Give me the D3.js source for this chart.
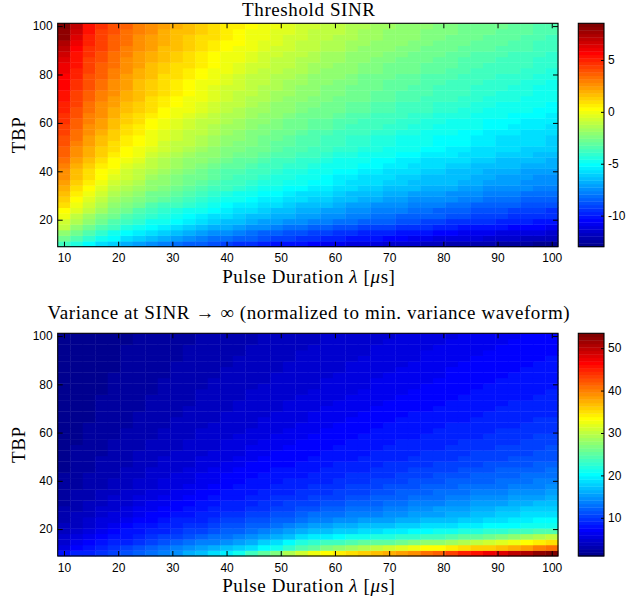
<!DOCTYPE html>
<html>
<head>
<meta charset="utf-8">
<script src="https://cdn.jsdelivr.net/npm/d3@7"></script>
<style>
  body { margin: 0; background: #fff; }
  .tick text { font-family: "Liberation Sans", Arial, sans-serif; font-size: 12px; fill: #000; }
  .tick line { stroke: #000; }
  .lbl { font-family: "Liberation Serif", "Times New Roman", serif; font-size: 19px; letter-spacing: 0.6px; fill: #000; }
</style>
</head>
<body>
<div class="svg-wrapper"></div>
<script>
// grid: pulse duration (us) and time-bandwidth product
const pulseDur = [10, 12.31, 14.62, 16.92, 19.23, 21.54, 23.85, 26.15, 28.46, 30.77, 33.08, 35.38, 37.69, 40, 42.31, 44.62, 46.92, 49.23, 51.54, 53.85, 56.15, 58.46, 60.77, 63.08, 65.38, 67.69, 70, 72.31, 74.62, 76.92, 79.23, 81.54, 83.85, 86.15, 88.46, 90.77, 93.08, 95.38, 97.69, 100];
const tbp = [10, 12.31, 14.62, 16.92, 19.23, 21.54, 23.85, 26.15, 28.46, 30.77, 33.08, 35.38, 37.69, 40, 42.31, 44.62, 46.92, 49.23, 51.54, 53.85, 56.15, 58.46, 60.77, 63.08, 65.38, 67.69, 70, 72.31, 74.62, 76.92, 79.23, 81.54, 83.85, 86.15, 88.46, 90.77, 93.08, 95.38, 97.69, 100];

const xTicks = [10, 20, 30, 40, 50, 60, 70, 80, 90, 100];
const yTicks = [20, 40, 60, 80, 100];
const sinrBarTicks = [-10, -5, 0, 5];
const varBarTicks = [10, 20, 30, 40, 50];

// threshold SINR, one row per TBP value (row 0 = TBP 10)
const sinrRows = [
[-3.6,-4.4,-5.1,-5.7,-6.2,-6.7,-7.1,-7.4,-7.8,-8.1,-8.4,-8.6,-8.9,-9.1,-9.4,-9.6,-9.8,-10.0,-10.2,-10.3,-10.5,-10.7,-10.8,-11.0,-11.1,-11.2,-11.4,-11.5,-11.6,-11.8,-11.9,-12.0,-12.1,-12.2,-12.3,-12.4,-12.5,-12.6,-12.7,-13.0],
[-2.6,-3.4,-4.1,-4.7,-5.2,-5.7,-6.1,-6.5,-6.8,-7.1,-7.4,-7.7,-8.0,-8.2,-8.4,-8.6,-8.8,-9.0,-9.2,-9.4,-9.6,-9.7,-9.9,-10.0,-10.2,-10.3,-10.5,-10.6,-10.7,-10.8,-11.0,-11.1,-11.2,-11.3,-11.4,-11.5,-11.6,-11.7,-11.8,-11.9],
[-1.9,-2.8,-3.5,-4.1,-4.6,-5.1,-5.5,-5.9,-6.2,-6.5,-6.8,-7.1,-7.4,-7.6,-7.9,-8.1,-8.3,-8.5,-8.7,-8.8,-9.0,-9.2,-9.4,-9.5,-9.7,-9.8,-9.9,-10.1,-10.2,-10.3,-10.4,-10.6,-10.7,-10.8,-10.9,-11.0,-11.1,-11.2,-11.3,-11.4],
[-1.2,-2.1,-2.8,-3.4,-3.9,-4.4,-4.8,-5.2,-5.5,-5.8,-6.1,-6.4,-6.7,-6.9,-7.2,-7.4,-7.6,-7.8,-8.0,-8.1,-8.3,-8.5,-8.7,-8.8,-9.0,-9.1,-9.2,-9.4,-9.5,-9.6,-9.7,-9.9,-10.0,-10.1,-10.2,-10.3,-10.4,-10.5,-10.6,-10.7],
[-0.6,-1.5,-2.2,-2.8,-3.3,-3.8,-4.2,-4.6,-4.9,-5.2,-5.5,-5.8,-6.1,-6.3,-6.6,-6.8,-7.0,-7.2,-7.4,-7.5,-7.7,-7.9,-8.1,-8.2,-8.4,-8.5,-8.6,-8.8,-8.9,-9.0,-9.1,-9.3,-9.4,-9.5,-9.6,-9.7,-9.8,-9.9,-10.0,-10.1],
[-0.1,-1.0,-1.7,-2.3,-2.8,-3.3,-3.7,-4.1,-4.4,-4.7,-5.0,-5.3,-5.6,-5.8,-6.1,-6.3,-6.5,-6.7,-6.9,-7.0,-7.2,-7.4,-7.6,-7.7,-7.9,-8.0,-8.1,-8.3,-8.4,-8.5,-8.6,-8.8,-8.9,-9.0,-9.1,-9.2,-9.3,-9.4,-9.5,-9.6],
[0.4,-0.5,-1.2,-1.8,-2.4,-2.8,-3.3,-3.7,-4.0,-4.3,-4.6,-4.9,-5.2,-5.4,-5.7,-5.9,-6.1,-6.3,-6.5,-6.7,-6.9,-7.0,-7.2,-7.4,-7.5,-7.7,-7.8,-7.9,-8.1,-8.2,-8.3,-8.4,-8.6,-8.7,-8.8,-8.9,-9.0,-9.1,-9.2,-9.3],
[0.8,-0.1,-0.8,-1.4,-2.0,-2.4,-2.9,-3.3,-3.6,-3.9,-4.2,-4.5,-4.8,-5.0,-5.3,-5.5,-5.7,-5.9,-6.1,-6.3,-6.5,-6.6,-6.8,-7.0,-7.1,-7.3,-7.4,-7.5,-7.7,-7.8,-7.9,-8.0,-8.2,-8.3,-8.4,-8.5,-8.6,-8.7,-8.8,-8.9],
[1.2,0.3,-0.4,-1.0,-1.6,-2.0,-2.5,-2.9,-3.2,-3.5,-3.8,-4.1,-4.4,-4.6,-4.9,-5.1,-5.3,-5.5,-5.7,-5.9,-6.1,-6.2,-6.4,-6.6,-6.7,-6.9,-7.0,-7.1,-7.3,-7.4,-7.5,-7.6,-7.8,-7.9,-8.0,-8.1,-8.2,-8.3,-8.4,-8.5],
[1.5,0.6,-0.1,-0.7,-1.3,-1.7,-2.2,-2.6,-2.9,-3.2,-3.5,-3.8,-4.1,-4.3,-4.6,-4.8,-5.0,-5.2,-5.4,-5.6,-5.8,-5.9,-6.1,-6.3,-6.4,-6.6,-6.7,-6.8,-7.0,-7.1,-7.2,-7.3,-7.5,-7.6,-7.7,-7.8,-7.9,-8.0,-8.1,-8.2],
[1.9,1.0,0.3,-0.3,-0.9,-1.3,-1.8,-2.2,-2.5,-2.8,-3.1,-3.4,-3.7,-3.9,-4.2,-4.4,-4.6,-4.8,-5.0,-5.2,-5.4,-5.5,-5.7,-5.9,-6.0,-6.2,-6.3,-6.4,-6.6,-6.7,-6.8,-6.9,-7.1,-7.2,-7.3,-7.4,-7.5,-7.6,-7.7,-7.8],
[2.2,1.3,0.6,0.0,-0.6,-1.0,-1.5,-1.9,-2.2,-2.5,-2.8,-3.1,-3.4,-3.6,-3.9,-4.1,-4.3,-4.5,-4.7,-4.9,-5.1,-5.2,-5.4,-5.6,-5.7,-5.9,-6.0,-6.1,-6.3,-6.4,-6.5,-6.6,-6.8,-6.9,-7.0,-7.1,-7.2,-7.3,-7.4,-7.5],
[2.5,1.6,0.9,0.2,-0.3,-0.8,-1.2,-1.6,-2.0,-2.3,-2.6,-2.9,-3.2,-3.5,-3.7,-3.9,-4.1,-4.4,-4.5,-4.7,-4.9,-5.1,-5.3,-5.4,-5.6,-5.7,-5.9,-6.0,-6.1,-6.3,-6.4,-6.5,-6.6,-6.8,-6.9,-7.0,-7.1,-7.2,-7.3,-7.4],
[2.7,1.8,1.1,0.4,-0.1,-0.6,-1.0,-1.4,-1.8,-2.1,-2.4,-2.7,-3.0,-3.3,-3.5,-3.7,-3.9,-4.2,-4.3,-4.5,-4.7,-4.9,-5.1,-5.2,-5.4,-5.5,-5.7,-5.8,-5.9,-6.1,-6.2,-6.3,-6.4,-6.6,-6.7,-6.8,-6.9,-7.0,-7.1,-7.2],
[3.0,2.1,1.4,0.7,0.2,-0.3,-0.7,-1.1,-1.5,-1.8,-2.1,-2.4,-2.7,-3.0,-3.2,-3.4,-3.6,-3.9,-4.0,-4.2,-4.4,-4.6,-4.8,-4.9,-5.1,-5.2,-5.4,-5.5,-5.6,-5.8,-5.9,-6.0,-6.1,-6.3,-6.4,-6.5,-6.6,-6.7,-6.8,-6.9],
[3.2,2.3,1.6,0.9,0.4,-0.1,-0.5,-0.9,-1.3,-1.6,-1.9,-2.2,-2.5,-2.8,-3.0,-3.2,-3.4,-3.7,-3.8,-4.0,-4.2,-4.4,-4.6,-4.7,-4.9,-5.0,-5.2,-5.3,-5.4,-5.6,-5.7,-5.8,-5.9,-6.1,-6.2,-6.3,-6.4,-6.5,-6.6,-6.7],
[3.5,2.6,1.9,1.2,0.7,0.2,-0.2,-0.6,-1.0,-1.3,-1.6,-1.9,-2.2,-2.5,-2.7,-2.9,-3.1,-3.4,-3.5,-3.7,-3.9,-4.1,-4.3,-4.4,-4.6,-4.7,-4.9,-5.0,-5.1,-5.3,-5.4,-5.5,-5.6,-5.8,-5.9,-6.0,-6.1,-6.2,-6.3,-6.4],
[3.7,2.8,2.1,1.4,0.9,0.4,0.0,-0.4,-0.8,-1.1,-1.4,-1.7,-2.0,-2.3,-2.5,-2.7,-2.9,-3.2,-3.3,-3.5,-3.7,-3.9,-4.1,-4.2,-4.4,-4.5,-4.7,-4.8,-4.9,-5.1,-5.2,-5.3,-5.4,-5.6,-5.7,-5.8,-5.9,-6.0,-6.1,-6.2],
[3.9,3.0,2.3,1.6,1.1,0.6,0.2,-0.2,-0.6,-0.9,-1.2,-1.5,-1.8,-2.1,-2.3,-2.5,-2.7,-3.0,-3.1,-3.3,-3.5,-3.7,-3.9,-4.0,-4.2,-4.3,-4.5,-4.6,-4.7,-4.9,-5.0,-5.1,-5.2,-5.4,-5.5,-5.6,-5.7,-5.8,-5.9,-6.0],
[4.1,3.2,2.4,1.8,1.2,0.7,0.3,-0.1,-0.5,-0.8,-1.1,-1.4,-1.7,-2.0,-2.2,-2.5,-2.7,-2.9,-3.1,-3.3,-3.5,-3.6,-3.8,-4.0,-4.1,-4.3,-4.4,-4.6,-4.7,-4.8,-5.0,-5.1,-5.2,-5.3,-5.5,-5.6,-5.7,-5.8,-5.9,-6.0],
[4.3,3.4,2.6,2.0,1.4,0.9,0.5,0.1,-0.3,-0.6,-0.9,-1.2,-1.5,-1.8,-2.0,-2.3,-2.5,-2.7,-2.9,-3.1,-3.3,-3.4,-3.6,-3.8,-3.9,-4.1,-4.2,-4.4,-4.5,-4.6,-4.8,-4.9,-5.0,-5.1,-5.3,-5.4,-5.5,-5.6,-5.7,-5.8],
[4.5,3.6,2.8,2.2,1.6,1.1,0.7,0.3,-0.1,-0.4,-0.7,-1.0,-1.3,-1.6,-1.8,-2.1,-2.3,-2.5,-2.7,-2.9,-3.1,-3.2,-3.4,-3.6,-3.7,-3.9,-4.0,-4.2,-4.3,-4.4,-4.6,-4.7,-4.8,-4.9,-5.1,-5.2,-5.3,-5.4,-5.5,-5.6],
[4.6,3.7,2.9,2.3,1.7,1.2,0.8,0.4,0.0,-0.3,-0.6,-0.9,-1.2,-1.5,-1.7,-2.0,-2.2,-2.4,-2.6,-2.8,-3.0,-3.1,-3.3,-3.5,-3.6,-3.8,-3.9,-4.1,-4.2,-4.3,-4.5,-4.6,-4.7,-4.8,-5.0,-5.1,-5.2,-5.3,-5.4,-5.5],
[4.8,3.9,3.1,2.5,1.9,1.4,1.0,0.6,0.2,-0.1,-0.4,-0.7,-1.0,-1.3,-1.5,-1.8,-2.0,-2.2,-2.4,-2.6,-2.8,-2.9,-3.1,-3.3,-3.4,-3.6,-3.7,-3.9,-4.0,-4.1,-4.3,-4.4,-4.5,-4.6,-4.8,-4.9,-5.0,-5.1,-5.2,-5.3],
[5.0,4.1,3.3,2.7,2.1,1.6,1.2,0.8,0.4,0.1,-0.2,-0.5,-0.8,-1.1,-1.3,-1.6,-1.8,-2.0,-2.2,-2.4,-2.6,-2.7,-2.9,-3.1,-3.2,-3.4,-3.5,-3.7,-3.8,-3.9,-4.1,-4.2,-4.3,-4.4,-4.6,-4.7,-4.8,-4.9,-5.0,-5.1],
[5.1,4.2,3.4,2.8,2.2,1.7,1.3,0.9,0.5,0.2,-0.1,-0.4,-0.7,-1.0,-1.2,-1.5,-1.7,-1.9,-2.1,-2.3,-2.5,-2.6,-2.8,-3.0,-3.1,-3.3,-3.4,-3.6,-3.7,-3.8,-4.0,-4.1,-4.2,-4.3,-4.5,-4.6,-4.7,-4.8,-4.9,-5.0],
[5.3,4.4,3.6,3.0,2.4,1.9,1.5,1.1,0.7,0.4,0.1,-0.2,-0.5,-0.8,-1.0,-1.3,-1.5,-1.7,-1.9,-2.1,-2.3,-2.4,-2.6,-2.8,-2.9,-3.1,-3.2,-3.4,-3.5,-3.6,-3.8,-3.9,-4.0,-4.1,-4.3,-4.4,-4.5,-4.6,-4.7,-4.8],
[5.4,4.5,3.7,3.1,2.5,2.0,1.6,1.2,0.8,0.5,0.2,-0.1,-0.4,-0.7,-0.9,-1.2,-1.4,-1.6,-1.8,-2.0,-2.2,-2.3,-2.5,-2.7,-2.8,-3.0,-3.1,-3.3,-3.4,-3.5,-3.7,-3.8,-3.9,-4.0,-4.2,-4.3,-4.4,-4.5,-4.6,-4.7],
[5.6,4.7,3.9,3.3,2.7,2.2,1.7,1.3,0.9,0.6,0.3,0.0,-0.3,-0.6,-0.8,-1.1,-1.3,-1.5,-1.7,-1.9,-2.1,-2.3,-2.4,-2.6,-2.8,-2.9,-3.1,-3.2,-3.3,-3.5,-3.6,-3.7,-3.9,-4.0,-4.1,-4.2,-4.3,-4.4,-4.6,-4.7],
[5.7,4.8,4.0,3.4,2.8,2.3,1.8,1.4,1.0,0.7,0.4,0.1,-0.2,-0.5,-0.7,-1.0,-1.2,-1.4,-1.6,-1.8,-2.0,-2.2,-2.3,-2.5,-2.7,-2.8,-3.0,-3.1,-3.2,-3.4,-3.5,-3.6,-3.8,-3.9,-4.0,-4.1,-4.2,-4.3,-4.5,-4.6],
[5.8,4.9,4.1,3.5,2.9,2.4,1.9,1.5,1.1,0.8,0.5,0.2,-0.1,-0.4,-0.6,-0.9,-1.1,-1.3,-1.5,-1.7,-1.9,-2.1,-2.2,-2.4,-2.6,-2.7,-2.9,-3.0,-3.1,-3.3,-3.4,-3.5,-3.7,-3.8,-3.9,-4.0,-4.1,-4.2,-4.4,-4.5],
[6.0,5.1,4.3,3.7,3.1,2.6,2.1,1.7,1.3,1.0,0.7,0.4,0.1,-0.2,-0.4,-0.7,-0.9,-1.1,-1.3,-1.5,-1.7,-1.9,-2.0,-2.2,-2.4,-2.5,-2.7,-2.8,-2.9,-3.1,-3.2,-3.3,-3.5,-3.6,-3.7,-3.8,-3.9,-4.0,-4.2,-4.3],
[6.1,5.2,4.4,3.8,3.2,2.7,2.2,1.8,1.4,1.1,0.8,0.5,0.2,-0.1,-0.3,-0.6,-0.8,-1.0,-1.2,-1.4,-1.6,-1.8,-1.9,-2.1,-2.3,-2.4,-2.6,-2.7,-2.8,-3.0,-3.1,-3.2,-3.4,-3.5,-3.6,-3.7,-3.8,-3.9,-4.1,-4.2],
[6.4,5.3,4.5,3.9,3.3,2.8,2.3,1.9,1.5,1.2,0.9,0.6,0.3,0.0,-0.2,-0.5,-0.7,-0.9,-1.1,-1.3,-1.5,-1.7,-1.8,-2.0,-2.2,-2.3,-2.5,-2.6,-2.7,-2.9,-3.0,-3.1,-3.3,-3.4,-3.5,-3.6,-3.7,-3.8,-4.0,-4.1],
[6.6,5.4,4.6,4.0,3.4,2.9,2.4,2.0,1.6,1.3,1.0,0.7,0.4,0.1,-0.1,-0.4,-0.6,-0.8,-1.0,-1.2,-1.4,-1.6,-1.7,-1.9,-2.1,-2.2,-2.4,-2.5,-2.6,-2.8,-2.9,-3.0,-3.2,-3.3,-3.4,-3.5,-3.6,-3.7,-3.9,-4.0],
[7.0,5.7,4.8,4.2,3.6,3.1,2.6,2.2,1.8,1.5,1.2,0.9,0.6,0.3,0.1,-0.2,-0.4,-0.6,-0.8,-1.0,-1.2,-1.4,-1.5,-1.7,-1.9,-2.0,-2.2,-2.3,-2.4,-2.6,-2.7,-2.8,-3.0,-3.1,-3.2,-3.3,-3.4,-3.5,-3.7,-3.8],
[7.5,5.9,4.9,4.3,3.7,3.2,2.7,2.3,1.9,1.6,1.3,1.0,0.7,0.4,0.2,-0.1,-0.3,-0.5,-0.7,-0.9,-1.1,-1.3,-1.4,-1.6,-1.8,-1.9,-2.1,-2.2,-2.3,-2.5,-2.6,-2.7,-2.9,-3.0,-3.1,-3.2,-3.3,-3.4,-3.6,-3.7],
[7.9,6.2,5.0,4.4,3.8,3.3,2.8,2.4,2.0,1.7,1.4,1.1,0.8,0.5,0.3,0.0,-0.2,-0.4,-0.6,-0.8,-1.0,-1.2,-1.3,-1.5,-1.7,-1.8,-2.0,-2.1,-2.2,-2.4,-2.5,-2.6,-2.8,-2.9,-3.0,-3.1,-3.2,-3.3,-3.5,-3.6],
[8.2,6.6,5.2,4.5,3.9,3.4,2.9,2.5,2.1,1.8,1.5,1.2,0.9,0.6,0.4,0.1,-0.1,-0.3,-0.5,-0.7,-0.9,-1.1,-1.2,-1.4,-1.6,-1.7,-1.9,-2.0,-2.1,-2.3,-2.4,-2.5,-2.7,-2.8,-2.9,-3.0,-3.1,-3.2,-3.4,-3.5],
[8.54,6.9,5.3,4.6,4.0,3.5,3.0,2.6,2.2,1.9,1.6,1.3,1.0,0.7,0.5,0.2,0.0,-0.2,-0.4,-0.6,-0.8,-1.0,-1.1,-1.3,-1.5,-1.6,-1.8,-1.9,-2.0,-2.2,-2.3,-2.4,-2.6,-2.7,-2.8,-2.9,-3.0,-3.1,-3.3,-3.4]
];

// variance at SINR -> inf, normalized (row 0 = TBP 10)
const varRows = [
[7.6,8.4,9.2,10.0,10.8,11.6,12.4,13.2,14.0,14.9,15.8,17.0,18.3,19.8,21.5,23.3,25.2,27.2,29.0,30.8,32.3,33.3,34.2,35.1,36.0,36.8,37.6,38.5,39.5,40.6,41.8,43.2,44.6,46.0,47.2,48.4,49.6,50.9,52.2,53.5],
[5.9,7.1,7.9,8.8,9.6,10.4,11.2,12.1,12.9,13.7,14.5,15.4,16.2,17.0,17.9,18.9,20.0,21.2,22.5,24.0,25.5,26.5,27.5,28.5,29.3,30.2,31.0,31.8,32.5,33.2,33.8,34.4,35.0,35.6,36.2,36.9,37.7,38.7,39.8,41.0],
[5.0,6.1,7.1,7.8,8.5,9.2,9.9,10.6,11.3,12.0,12.7,13.4,14.1,14.8,15.4,16.4,17.6,19.0,20.3,21.6,22.7,23.3,23.8,24.3,24.8,25.2,25.6,26.1,26.7,27.3,27.9,28.5,29.2,29.9,30.8,31.7,32.6,33.5,34.4,35.3],
[4.3,5.3,6.2,7.1,7.7,8.3,8.9,9.5,10.1,10.7,11.3,11.9,12.5,13.1,13.7,14.3,15.1,16.3,17.4,18.4,19.3,19.8,20.3,20.8,21.2,21.6,22.0,22.4,22.8,23.3,23.8,24.3,24.8,25.3,26.0,26.8,27.6,28.4,29.1,29.9],
[3.9,4.7,5.5,6.3,7.1,7.6,8.2,8.7,9.2,9.7,10.3,10.8,11.3,11.9,12.4,12.9,13.5,14.3,15.2,16.0,16.8,17.3,17.7,18.1,18.5,18.9,19.3,19.7,20.1,20.5,20.9,21.3,21.7,22.1,22.5,22.9,23.3,23.7,24.1,24.5],
[3.5,4.2,4.9,5.7,6.4,7.1,7.6,8.0,8.5,9.0,9.5,9.9,10.4,10.9,11.3,11.8,12.4,13.1,13.9,14.6,15.2,15.6,16.0,16.4,16.7,17.0,17.4,17.7,18.0,18.3,18.7,19.0,19.3,19.6,19.9,20.3,20.6,20.9,21.2,21.5],
[3.2,3.8,4.5,5.2,5.8,6.5,7.1,7.5,8.0,8.4,8.8,9.2,9.7,10.1,10.5,10.9,11.4,12.0,12.4,12.9,13.5,13.9,14.3,14.7,15.0,15.4,15.7,16.0,16.4,16.7,17.1,17.4,17.8,18.1,18.5,18.8,19.2,19.5,19.9,20.2],
[2.9,3.5,4.1,4.7,5.3,5.9,6.5,7.1,7.5,7.9,8.3,8.7,9.0,9.4,9.8,10.2,10.6,11.0,11.6,12.1,12.6,12.9,13.2,13.5,13.8,14.1,14.4,14.7,15.0,15.3,15.7,16.0,16.4,16.8,17.1,17.5,17.9,18.3,18.7,19.0],
[2.7,3.3,3.8,4.4,4.9,5.5,6.0,6.6,7.1,7.5,7.8,8.2,8.5,8.9,9.2,9.6,10.0,10.3,10.7,11.0,11.4,11.7,12.1,12.5,12.8,13.2,13.5,13.9,14.2,14.6,15.0,15.3,15.7,16.0,16.4,16.7,17.1,17.5,17.8,18.2],
[2.5,3.0,3.6,4.1,4.6,5.1,5.6,6.1,6.6,7.1,7.4,7.8,8.1,8.4,8.8,9.1,9.4,9.7,10.1,10.4,10.7,11.1,11.4,11.7,12.0,12.4,12.7,13.0,13.4,13.7,14.0,14.4,14.7,15.0,15.3,15.7,16.0,16.3,16.7,17.0],
[2.4,2.9,3.3,3.8,4.3,4.8,5.2,5.7,6.2,6.7,7.1,7.4,7.7,8.0,8.3,8.6,8.9,9.3,9.6,9.9,10.2,10.5,10.8,11.1,11.4,11.7,12.0,12.3,12.6,12.9,13.2,13.5,13.9,14.2,14.5,14.8,15.1,15.4,15.7,16.0],
[2.2,2.7,3.1,3.6,4.0,4.5,4.9,5.4,5.8,6.2,6.7,7.1,7.4,7.7,8.0,8.2,8.5,8.8,9.1,9.4,9.7,10.0,10.3,10.5,10.8,11.1,11.4,11.7,12.0,12.3,12.5,12.8,13.1,13.4,13.7,14.0,14.3,14.6,14.8,15.1],
[2.1,2.5,3.0,3.4,3.8,4.2,4.6,5.0,5.5,5.9,6.3,6.7,7.1,7.4,7.6,7.9,8.2,8.4,8.7,9.0,9.3,9.5,9.8,10.1,10.3,10.6,10.9,11.1,11.4,11.7,11.9,12.2,12.5,12.8,13.0,13.3,13.6,13.8,14.1,14.4],
[2.0,2.4,2.8,3.2,3.6,4.0,4.4,4.8,5.2,5.6,5.9,6.3,6.7,7.1,7.4,7.6,7.9,8.1,8.4,8.6,8.9,9.1,9.4,9.6,9.9,10.1,10.4,10.7,10.9,11.2,11.4,11.7,11.9,12.2,12.4,12.7,12.9,13.2,13.5,13.7],
[1.9,2.3,2.7,3.0,3.4,3.8,4.2,4.5,4.9,5.3,5.6,6.0,6.4,6.8,7.1,7.3,7.6,7.8,8.1,8.3,8.5,8.8,9.0,9.3,9.5,9.7,10.0,10.2,10.5,10.7,10.9,11.2,11.4,11.7,11.9,12.1,12.4,12.6,12.9,13.1],
[1.8,2.2,2.6,2.9,3.3,3.6,4.0,4.3,4.7,5.0,5.4,5.7,6.1,6.4,6.8,7.1,7.3,7.6,7.8,8.0,8.2,8.5,8.7,8.9,9.2,9.4,9.6,9.8,10.1,10.3,10.5,10.7,11.0,11.2,11.4,11.7,11.9,12.1,12.3,12.6],
[1.8,2.1,2.4,2.8,3.1,3.4,3.8,4.1,4.4,4.8,5.1,5.5,5.8,6.1,6.5,6.8,7.1,7.3,7.5,7.8,8.0,8.2,8.4,8.6,8.8,9.0,9.3,9.5,9.7,9.9,10.1,10.3,10.6,10.8,11.0,11.2,11.4,11.6,11.9,12.1],
[1.7,2.0,2.3,2.7,3.0,3.3,3.6,3.9,4.3,4.6,4.9,5.2,5.5,5.8,6.2,6.5,6.8,7.1,7.3,7.5,7.7,7.9,8.1,8.3,8.5,8.8,9.0,9.2,9.4,9.6,9.8,10.0,10.2,10.4,10.6,10.8,11.0,11.2,11.4,11.6],
[1.6,2.0,2.3,2.6,2.9,3.2,3.5,3.8,4.1,4.4,4.7,5.0,5.3,5.6,5.9,6.2,6.5,6.8,7.1,7.3,7.5,7.7,7.9,8.1,8.3,8.5,8.7,8.9,9.1,9.3,9.5,9.7,9.9,10.1,10.3,10.5,10.6,10.8,11.0,11.2],
[1.6,1.9,2.2,2.5,2.8,3.0,3.3,3.6,3.9,4.2,4.5,4.8,5.1,5.4,5.7,6.0,6.2,6.5,6.8,7.1,7.3,7.5,7.7,7.9,8.0,8.2,8.4,8.6,8.8,9.0,9.2,9.4,9.6,9.7,9.9,10.1,10.3,10.5,10.7,10.9],
[1.5,1.8,2.1,2.4,2.7,2.9,3.2,3.5,3.8,4.1,4.3,4.6,4.9,5.2,5.4,5.7,6.0,6.3,6.6,6.8,7.1,7.3,7.5,7.6,7.8,8.0,8.2,8.4,8.6,8.7,8.9,9.1,9.3,9.5,9.6,9.8,10.0,10.2,10.4,10.5],
[1.5,1.8,2.0,2.3,2.6,2.8,3.1,3.4,3.6,3.9,4.2,4.4,4.7,5.0,5.2,5.5,5.8,6.1,6.3,6.6,6.9,7.1,7.3,7.5,7.6,7.8,8.0,8.1,8.3,8.5,8.7,8.8,9.0,9.2,9.4,9.5,9.7,9.9,10.1,10.2],
[1.4,1.7,2.0,2.2,2.5,2.7,3.0,3.3,3.5,3.8,4.0,4.3,4.5,4.8,5.1,5.3,5.6,5.8,6.1,6.4,6.6,6.9,7.1,7.3,7.4,7.6,7.8,7.9,8.1,8.3,8.4,8.6,8.8,8.9,9.1,9.3,9.4,9.6,9.8,9.9],
[1.4,1.7,1.9,2.2,2.4,2.6,2.9,3.1,3.4,3.6,3.9,4.1,4.4,4.6,4.9,5.1,5.4,5.6,5.9,6.1,6.4,6.6,6.9,7.1,7.3,7.4,7.6,7.8,7.9,8.1,8.2,8.4,8.6,8.7,8.9,9.0,9.2,9.4,9.5,9.7],
[1.4,1.6,1.8,2.1,2.3,2.6,2.8,3.0,3.3,3.5,3.8,4.0,4.2,4.5,4.7,5.0,5.2,5.4,5.7,5.9,6.2,6.4,6.6,6.9,7.1,7.3,7.4,7.6,7.7,7.9,8.0,8.2,8.3,8.5,8.6,8.8,9.0,9.1,9.3,9.4],
[1.3,1.6,1.8,2.0,2.3,2.5,2.7,2.9,3.2,3.4,3.6,3.9,4.1,4.3,4.6,4.8,5.0,5.3,5.5,5.7,6.0,6.2,6.4,6.7,6.9,7.1,7.3,7.4,7.6,7.7,7.9,8.0,8.2,8.3,8.5,8.6,8.8,8.9,9.1,9.2],
[1.3,1.5,1.7,2.0,2.2,2.4,2.6,2.9,3.1,3.3,3.5,3.8,4.0,4.2,4.4,4.7,4.9,5.1,5.3,5.6,5.8,6.0,6.2,6.4,6.7,6.9,7.1,7.3,7.4,7.5,7.7,7.8,8.0,8.1,8.3,8.4,8.6,8.7,8.8,9.0],
[1.3,1.5,1.7,1.9,2.1,2.3,2.6,2.8,3.0,3.2,3.4,3.6,3.9,4.1,4.3,4.5,4.7,5.0,5.2,5.4,5.6,5.8,6.0,6.3,6.5,6.7,6.9,7.1,7.2,7.4,7.5,7.7,7.8,7.9,8.1,8.2,8.4,8.5,8.6,8.8],
[1.2,1.5,1.7,1.9,2.1,2.3,2.5,2.7,2.9,3.1,3.3,3.6,3.8,4.0,4.2,4.4,4.6,4.8,5.0,5.2,5.4,5.7,5.9,6.1,6.3,6.5,6.7,6.9,7.1,7.2,7.4,7.5,7.6,7.8,7.9,8.1,8.2,8.3,8.5,8.6],
[1.2,1.4,1.6,1.8,2.0,2.2,2.4,2.6,2.8,3.0,3.2,3.5,3.7,3.9,4.1,4.3,4.5,4.7,4.9,5.1,5.3,5.5,5.7,5.9,6.1,6.3,6.5,6.7,6.9,7.1,7.2,7.4,7.5,7.6,7.8,7.9,8.0,8.2,8.3,8.4],
[1.2,1.4,1.6,1.8,2.0,2.2,2.4,2.6,2.8,3.0,3.2,3.4,3.6,3.8,4.0,4.2,4.4,4.6,4.7,4.9,5.1,5.3,5.5,5.7,5.9,6.1,6.3,6.5,6.7,6.9,7.1,7.2,7.4,7.5,7.6,7.7,7.9,8.0,8.1,8.3],
[1.2,1.4,1.5,1.7,1.9,2.1,2.3,2.5,2.7,2.9,3.1,3.3,3.5,3.7,3.9,4.0,4.2,4.4,4.6,4.8,5.0,5.2,5.4,5.6,5.8,6.0,6.2,6.4,6.5,6.7,6.9,7.1,7.2,7.4,7.5,7.6,7.7,7.9,8.0,8.1],
[1.1,1.3,1.5,1.7,1.9,2.1,2.3,2.4,2.6,2.8,3.0,3.2,3.4,3.6,3.8,3.9,4.1,4.3,4.5,4.7,4.9,5.1,5.2,5.4,5.6,5.8,6.0,6.2,6.4,6.6,6.7,6.9,7.1,7.2,7.3,7.5,7.6,7.7,7.8,7.9],
[1.1,1.3,1.5,1.7,1.8,2.0,2.2,2.4,2.6,2.7,2.9,3.1,3.3,3.5,3.7,3.8,4.0,4.2,4.4,4.6,4.8,4.9,5.1,5.3,5.5,5.7,5.8,6.0,6.2,6.4,6.6,6.8,6.9,7.1,7.2,7.3,7.5,7.6,7.7,7.8],
[1.1,1.3,1.4,1.6,1.8,2.0,2.2,2.3,2.5,2.7,2.9,3.0,3.2,3.4,3.6,3.7,3.9,4.1,4.3,4.5,4.6,4.8,5.0,5.2,5.3,5.5,5.7,5.9,6.1,6.2,6.4,6.6,6.8,6.9,7.1,7.2,7.3,7.4,7.6,7.7],
[1.1,1.2,1.4,1.6,1.8,1.9,2.1,2.3,2.5,2.6,2.8,3.0,3.2,3.3,3.5,3.7,3.8,4.0,4.2,4.4,4.5,4.7,4.9,5.1,5.2,5.4,5.6,5.7,5.9,6.1,6.3,6.4,6.6,6.8,7.0,7.1,7.2,7.3,7.4,7.6],
[1.1,1.2,1.4,1.6,1.7,1.9,2.1,2.2,2.4,2.6,2.7,2.9,3.1,3.3,3.4,3.6,3.8,3.9,4.1,4.3,4.4,4.6,4.8,4.9,5.1,5.3,5.4,5.6,5.8,6.0,6.1,6.3,6.5,6.6,6.8,7.0,7.1,7.2,7.3,7.5],
[1.0,1.2,1.4,1.5,1.7,1.9,2.0,2.2,2.4,2.5,2.7,2.8,3.0,3.2,3.3,3.5,3.7,3.8,4.0,4.2,4.3,4.5,4.7,4.8,5.0,5.2,5.3,5.5,5.6,5.8,6.0,6.1,6.3,6.5,6.6,6.8,7.0,7.1,7.2,7.3],
[1.0,1.2,1.3,1.5,1.7,1.8,2.0,2.1,2.3,2.5,2.6,2.8,2.9,3.1,3.3,3.4,3.6,3.7,3.9,4.1,4.2,4.4,4.5,4.7,4.9,5.0,5.2,5.3,5.5,5.7,5.8,6.0,6.1,6.3,6.5,6.6,6.8,7.0,7.1,7.2],
[1.0,1.2,1.3,1.5,1.6,1.8,1.9,2.1,2.3,2.4,2.6,2.7,2.9,3.0,3.2,3.4,3.5,3.7,3.8,4.0,4.1,4.3,4.5,4.6,4.8,4.9,5.1,5.2,5.4,5.5,5.7,5.9,6.0,6.2,6.3,6.5,6.7,6.8,7.0,7.1]
];

// MATLAB-style jet colormap with m entries
function jet(m) {
  const n = Math.ceil(m / 4);
  const u = [];
  for (let k = 1; k <= n; k++) u.push(k / n);
  for (let k = 1; k < n; k++) u.push(1);
  for (let k = n; k >= 1; k--) u.push(k / n);
  const off = Math.ceil(n / 2) - (m % 4 === 1 ? 1 : 0);
  const r = new Array(m).fill(0), g = new Array(m).fill(0), b = new Array(m).fill(0);
  u.forEach((val, k) => {
    const gi = off + k + 1, ri = gi + n, bi = gi - n;
    if (gi >= 1 && gi <= m) g[gi - 1] = val;
    if (ri >= 1 && ri <= m) r[ri - 1] = val;
    if (bi >= 1 && bi <= m) b[bi - 1] = val;
  });
  return d3.range(m).map(k => d3.rgb(r[k] * 255, g[k] * 255, b[k] * 255).formatHex());
}
const palette = jet(64);

const width = 631, height = 602;
const svg = d3.select(".svg-wrapper").append("svg")
  .attr("width", width).attr("height", height);

const left = 57.7, right = 558, barLeft = 578.3, barRight = 604;
const step = pulseDur[1] - pulseDur[0];

const xScale = d3.scaleLinear()
  .domain([pulseDur[0] - step / 2, pulseDur[pulseDur.length - 1] + step / 2])
  .range([left, right]);

function drawPanel(rows, top, bottom, barTicks, title, titleY, xLabelY) {
  const yStep = tbp[1] - tbp[0];
  const yScale = d3.scaleLinear()
    .domain([tbp[0] - yStep / 2, tbp[tbp.length - 1] + yStep / 2])
    .range([bottom, top]);

  const color = d3.scaleQuantize()
    .domain(d3.extent(rows.flat()))
    .range(palette);

  const cells = [];
  rows.forEach((row, i) => row.forEach((v, j) => cells.push({x: pulseDur[j], y: tbp[i], v: v})));

  const g = svg.append("g");
  g.selectAll("rect.cell")
    .data(cells)
    .enter()
    .append("rect")
      .attr("class", "cell")
      .attr("x", d => xScale(d.x - step / 2))
      .attr("y", d => yScale(d.y + yStep / 2))
      .attr("width", d => xScale(d.x + step / 2) - xScale(d.x - step / 2) + 0.4)
      .attr("height", d => yScale(d.y - yStep / 2) - yScale(d.y + yStep / 2) + 0.4)
      .attr("fill", d => color(d.v));

  // axes with inward ticks on all four sides
  g.append("g").attr("transform", `translate(0,${bottom})`)
    .call(d3.axisBottom(xScale).tickValues(xTicks).tickSize(-5).tickSizeOuter(0).tickPadding(7));
  g.append("g").attr("transform", `translate(0,${top})`)
    .call(d3.axisTop(xScale).tickValues(xTicks).tickSize(-5).tickSizeOuter(0).tickFormat(""));
  g.append("g").attr("transform", `translate(${left},0)`)
    .call(d3.axisLeft(yScale).tickValues(yTicks).tickSize(-5).tickSizeOuter(0).tickPadding(5));
  g.append("g").attr("transform", `translate(${right},0)`)
    .call(d3.axisRight(yScale).tickValues(yTicks).tickSize(-5).tickSizeOuter(0).tickFormat(""));
  g.selectAll(".domain").remove();

  g.append("rect")
    .attr("x", left).attr("y", top)
    .attr("width", right - left).attr("height", bottom - top)
    .attr("fill", "none").attr("stroke", "#000").attr("stroke-width", 1.1);

  // colorbar
  const cd = color.domain();
  const barScale = d3.scaleLinear().domain(cd).range([bottom, top]);
  const bands = palette.map((c, k) => ({
    c: c,
    lo: cd[0] + (cd[1] - cd[0]) * k / palette.length,
    hi: cd[0] + (cd[1] - cd[0]) * (k + 1) / palette.length
  }));
  g.selectAll("rect.band")
    .data(bands)
    .enter()
    .append("rect")
      .attr("class", "band")
      .attr("x", barLeft)
      .attr("width", barRight - barLeft)
      .attr("y", d => barScale(d.hi))
      .attr("height", d => barScale(d.lo) - barScale(d.hi) + 0.4)
      .attr("fill", d => d.c);
  const barAxisG = g.append("g").attr("transform", `translate(${barRight},0)`)
    .call(d3.axisRight(barScale).tickValues(barTicks).tickSize(-3).tickSizeOuter(0).tickPadding(4)
      .tickFormat(d => String(d)));
  barAxisG.select(".domain").remove();
  g.append("rect")
    .attr("x", barLeft).attr("y", top)
    .attr("width", barRight - barLeft).attr("height", bottom - top)
    .attr("fill", "none").attr("stroke", "#000").attr("stroke-width", 1.1);

  // labels
  g.append("text")
    .attr("class", "lbl")
    .attr("x", (left + right) / 2 + 1)
    .attr("y", titleY)
    .attr("text-anchor", "middle")
    .text(title);

  const xl = g.append("text")
    .attr("class", "lbl")
    .attr("x", (left + right) / 2 + 1)
    .attr("y", xLabelY)
    .attr("text-anchor", "middle");
  xl.append("tspan").text("Pulse Duration ");
  xl.append("tspan").attr("font-style", "italic").text("λ");
  xl.append("tspan").text(" [");
  xl.append("tspan").attr("font-style", "italic").text("μ");
  xl.append("tspan").text("s]");

  g.append("text")
    .attr("class", "lbl")
    .attr("transform", `translate(25,${(top + bottom) / 2}) rotate(-90)`)
    .attr("text-anchor", "middle")
    .text("TBP");
}

drawPanel(sinrRows, 23.3, 246.7, sinrBarTicks, "Threshold SINR", 16, 282.5);
drawPanel(varRows, 333.3, 556, varBarTicks,
  "Variance at SINR \u2192 \u221E (normalized to min. variance waveform)", 319, 592);
</script>
</body>
</html>
